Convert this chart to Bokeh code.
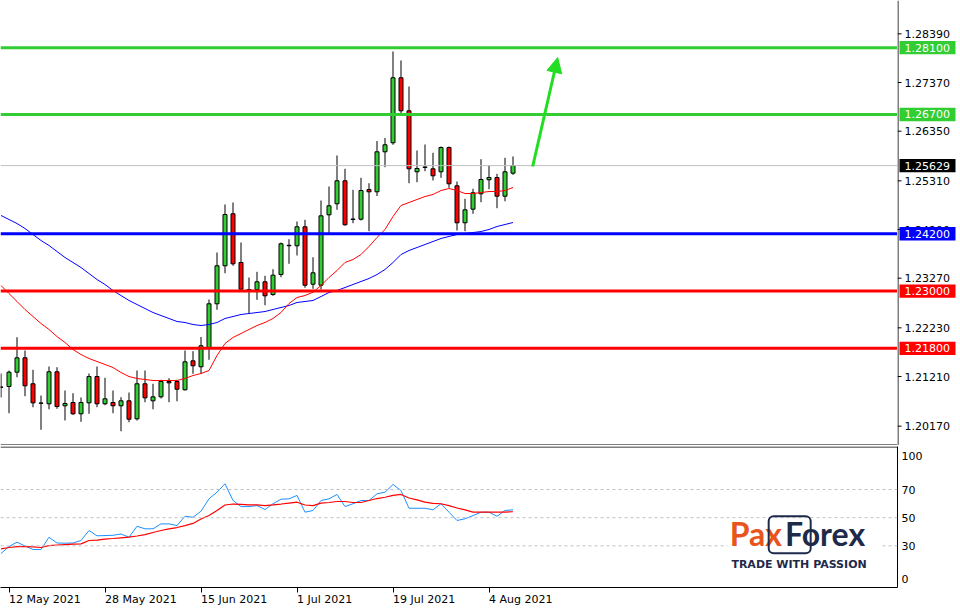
from bokeh.plotting import figure
from bokeh.models import (Range1d, FixedTicker, Span, Label, LinearAxis,
                          Arrow, NormalHead, BoxAnnotation, ColumnDataSource)
from bokeh.core.properties import value
from bokeh.layouts import column, row
from bokeh.embed import file_html
from bokeh.resources import INLINE

# ---------------- data ----------------
opens = [1.20990, 1.21001, 1.21301, 1.21602, 1.21058, 1.20655, 1.20639, 1.21309, 1.20597, 1.20666,
         1.20429, 1.20659, 1.21210, 1.20639, 1.20666, 1.20597, 1.20701, 1.20324, 1.21058, 1.20701,
         1.20785, 1.21106, 1.21106, 1.20932, 1.21539, 1.21414, 1.21812, 1.22734, 1.23530, 1.24619,
         1.23599, 1.23030, 1.23033, 1.23195, 1.22928, 1.23347, 1.23960, 1.23949, 1.24347, 1.23144,
         1.23123, 1.24598, 1.24829, 1.25311, 1.24510, 1.24506, 1.25128, 1.25080, 1.25918, 1.26107,
         1.27469, 1.26777, 1.25499, 1.25600, 1.25562, 1.25499, 1.26008, 1.25206, 1.24431, 1.24716,
         1.25038, 1.25332, 1.25380, 1.24988, 1.25470]
highs = [1.21273, 1.21336, 1.22034, 1.21755, 1.21351, 1.20812, 1.21420, 1.21405, 1.20917, 1.20861,
         1.20771, 1.21273, 1.21420, 1.21183, 1.20917, 1.20777, 1.20875, 1.21336, 1.21336, 1.21058,
         1.21141, 1.21175, 1.21141, 1.21755, 1.21741, 1.22038, 1.22824, 1.23808, 1.24814, 1.24856,
         1.24018, 1.23285, 1.23404, 1.23320, 1.23459, 1.24018, 1.24087, 1.24458, 1.24493, 1.23710,
         1.24898, 1.25191, 1.25841, 1.25562, 1.25122, 1.25373, 1.25260, 1.26144, 1.26207, 1.28020,
         1.27831, 1.27286, 1.25945, 1.26071, 1.25897, 1.26029, 1.26029, 1.25296, 1.24933, 1.25143,
         1.25763, 1.25631, 1.25457, 1.25792, 1.25820]
lows = [1.20771, 1.20442, 1.21196, 1.20798, 1.20567, 1.20094, 1.20525, 1.20534, 1.20289, 1.20408,
        1.20261, 1.20429, 1.20567, 1.20609, 1.20442, 1.20064, 1.20253, 1.20289, 1.20672, 1.20525,
        1.20750, 1.20672, 1.20693, 1.20917, 1.21267, 1.21273, 1.21560, 1.22608, 1.23375, 1.23530,
        1.23033, 1.22537, 1.22817, 1.22704, 1.22901, 1.23291, 1.23572, 1.23746, 1.23069, 1.23048,
        1.23033, 1.24200, 1.24703, 1.24370, 1.24422, 1.24479, 1.24255, 1.24992, 1.25596, 1.26065,
        1.26727, 1.25260, 1.25281, 1.25512, 1.25317, 1.25373, 1.25164, 1.24269, 1.24255, 1.24619,
        1.24862, 1.25135, 1.24737, 1.24883, 1.25436]
closes = [1.20986, 1.21301, 1.21602, 1.21016, 1.20659, 1.20651, 1.21309, 1.20582, 1.20645, 1.20429,
          1.20666, 1.21210, 1.20639, 1.20743, 1.20597, 1.20701, 1.20316, 1.21058, 1.20764, 1.20785,
          1.21106, 1.21078, 1.20944, 1.21518, 1.21435, 1.21854, 1.22734, 1.23530, 1.24605, 1.23572,
          1.23039, 1.23020, 1.23195, 1.22901, 1.23333, 1.23991, 1.23950, 1.24347, 1.23123, 1.23383,
          1.24577, 1.24787, 1.25311, 1.24389, 1.24500, 1.25107, 1.25080, 1.25918, 1.26065, 1.27469,
          1.26777, 1.25562, 1.25568, 1.25590, 1.25415, 1.26008, 1.25248, 1.24431, 1.24703, 1.25059,
          1.25338, 1.25380, 1.24988, 1.25499, 1.25629]
ma_fast = [1.23117, 1.22949, 1.22782, 1.22614, 1.22467, 1.22321, 1.22195, 1.22048, 1.21923, 1.21776,
           1.21671, 1.21588, 1.21525, 1.21462, 1.21399, 1.21294, 1.21210, 1.21169, 1.21148, 1.21127,
           1.21127, 1.21127, 1.21127, 1.21169, 1.21231, 1.21273, 1.21336, 1.21650, 1.21902, 1.22028,
           1.22111, 1.22195, 1.22279, 1.22342, 1.22426, 1.22551, 1.22740, 1.22866, 1.22907, 1.22977,
           1.23117, 1.23285, 1.23431, 1.23599, 1.23662, 1.23766, 1.23934, 1.24123, 1.24290, 1.24563,
           1.24793, 1.24856, 1.24919, 1.24982, 1.25024, 1.25107, 1.25149, 1.25107, 1.25044, 1.25044,
           1.25065, 1.25086, 1.25086, 1.25107, 1.25170]
ma_slow = [1.24584, 1.24500, 1.24416, 1.24311, 1.24185, 1.24060, 1.23955, 1.23829, 1.23704, 1.23599,
           1.23494, 1.23368, 1.23243, 1.23138, 1.23012, 1.22907, 1.22803, 1.22719, 1.22635, 1.22551,
           1.22488, 1.22426, 1.22363, 1.22342, 1.22300, 1.22279, 1.22300, 1.22342, 1.22426, 1.22467,
           1.22509, 1.22530, 1.22551, 1.22572, 1.22614, 1.22656, 1.22698, 1.22761, 1.22782, 1.22803,
           1.22886, 1.22970, 1.23012, 1.23075, 1.23138, 1.23201, 1.23264, 1.23347, 1.23452, 1.23599,
           1.23766, 1.23850, 1.23913, 1.23976, 1.24039, 1.24102, 1.24144, 1.24185, 1.24206, 1.24227,
           1.24248, 1.24290, 1.24353, 1.24395, 1.24437]
rsi = [24.5, 29.5, 32.6, 29.9, 27.4, 27.4, 36.1, 32.0, 31.9, 32.0,
       33.8, 40.9, 37.1, 37.3, 37.5, 38.4, 36.1, 43.9, 42.1, 42.1,
       45.6, 45.6, 44.4, 51.0, 50.3, 54.6, 63.4, 68.1, 74.1, 62.2,
       57.9, 57.9, 58.6, 55.8, 59.9, 63.1, 63.4, 65.8, 53.9, 55.1,
       62.2, 63.4, 66.5, 57.9, 59.9, 62.2, 62.2, 67.0, 68.1, 73.6,
       69.3, 56.7, 56.7, 56.7, 55.6, 59.9, 53.9, 48.0, 49.2, 51.5,
       53.9, 53.9, 51.0, 55.1, 55.6]
rsi_ma = [27.9, 28.8, 29.5, 29.5, 29.2, 28.8, 30.2, 30.6, 30.9, 31.2,
          31.4, 33.8, 34.1, 34.8, 35.2, 35.7, 36.2, 37.0, 38.0, 39.5,
          40.9, 42.0, 43.0, 44.4, 45.9, 49.1, 51.5, 55.1, 59.0, 59.7,
          59.4, 59.1, 59.1, 58.6, 59.1, 59.7, 60.4, 61.0, 59.0, 58.6,
          60.3, 60.8, 61.5, 61.5, 60.8, 60.8, 62.2, 63.6, 64.5, 65.8,
          66.5, 64.0, 62.6, 61.1, 60.1, 59.9, 58.6, 56.9, 55.5, 54.0,
          53.9, 53.9, 53.9, 54.0, 54.2]
bars = list(range(len(opens)))

price_ticks = [1.28390, 1.27370, 1.26350, 1.25310, 1.24290, 1.23270, 1.22230, 1.21210, 1.20170]
date_tick_bars = [1, 13, 25, 37, 49, 61]
date_tick_labels = ["12 May 2021", "28 May 2021", "15 Jun 2021", "1 Jul 2021", "19 Jul 2021", "4 Aug 2021"]
green_levels = [1.28100, 1.26700]
blue_levels = [1.24200]
red_levels = [1.23000, 1.21800]
last_price = 1.25629
rsi_levels = [30, 50, 70]
rsi_tick_pos = [6.3, 30, 50, 70, 93.7]
rsi_tick_text = ["0", "30", "50", "70", "100"]
arrow_bars = [66.46, 69.59]
arrow_prices = [1.25610, 1.27894]

# ---------------- styling / layout ----------------
GREEN = "#32CD32"
RED = "#FF0000"
BLUE = "#0000FF"
NAVY = "#1E2A4A"
FONT = "DejaVu Sans"
FRAME_W = 897
BAR_PX = 8
MAIN_H = 445
RSI_H = 141
RIGHT = 63

xs = -0.5 / BAR_PX
x_range = Range1d(xs, xs + FRAME_W / BAR_PX)
price_lo, price_hi = 1.19765, 1.29088
y_main = Range1d(price_lo, price_hi)
y_rsi = Range1d(0.4, 100.57)
px_price = (price_hi - price_lo) / MAIN_H
rsi_px = (y_rsi.end - y_rsi.start) / RSI_H

# ---------------- main price panel ----------------
p1 = figure(frame_width=FRAME_W, frame_height=MAIN_H, x_range=x_range, y_range=y_main,
            output_backend="svg", toolbar_location=None, x_axis_location=None,
            y_axis_location=None, min_border_left=0, min_border_top=0,
            min_border_bottom=0, min_border_right=0)
p1.outline_line_color = None
p1.grid.grid_line_color = None

colors = [GREEN if c > o else RED for o, c in zip(opens, closes)]
src = ColumnDataSource(dict(x=bars, o=opens, h=highs, l=lows, c=closes,
                            top=[max(o, c) for o, c in zip(opens, closes)],
                            bottom=[min(o, c) for o, c in zip(opens, closes)],
                            color=colors))
p1.segment(x0="x", y0="h", x1="x", y1="l", source=src, line_color="black", line_width=1)
p1.vbar(x="x", width=0.5, top="top", bottom="bottom", source=src,
        fill_color="color", line_color="black", line_width=1)
p1.line(bars, ma_slow, line_color=BLUE, line_width=1)
p1.line(bars, ma_fast, line_color=RED, line_width=1)

p1.add_layout(Span(location=last_price, dimension="width", line_color="#C0C0C0", line_width=1))
for lv in green_levels:
    p1.add_layout(Span(location=lv, dimension="width", line_color=GREEN, line_width=3))
for lv in blue_levels:
    p1.add_layout(Span(location=lv, dimension="width", line_color=BLUE, line_width=3))
for lv in red_levels:
    p1.add_layout(Span(location=lv, dimension="width", line_color=RED, line_width=3))
p1.add_layout(Span(location=price_lo + 0.5 * px_price, dimension="width",
                   line_color="black", line_width=1))
p1.add_layout(Arrow(x_start=arrow_bars[0], y_start=arrow_prices[0],
                    x_end=arrow_bars[1], y_end=arrow_prices[1],
                    line_color="#22DD22", line_width=3,
                    end=NormalHead(size=15, fill_color="#22DD22", line_color="#22DD22")))

# ---------------- price scale strip (right of the main panel) ----------------
ps = figure(frame_width=RIGHT, frame_height=MAIN_H, x_range=Range1d(0, RIGHT), y_range=y_main,
            output_backend="svg", toolbar_location=None, x_axis_location=None,
            y_axis_location=None, min_border_left=0, min_border_top=0,
            min_border_bottom=0, min_border_right=0)
ps.outline_line_color = None
ps.grid.grid_line_color = None
ps.add_layout(Span(location=0.5, dimension="height", line_color="black", line_width=1))
ps.segment(x0=[0] * len(price_ticks), y0=price_ticks, x1=[4] * len(price_ticks), y1=price_ticks,
           line_color="black", line_width=1)
ps.text(x=[7] * len(price_ticks), y=price_ticks, text=["%.5f" % t for t in price_ticks],
        text_font=value(FONT), text_font_size=value("11px"), text_color="black",
        text_align="left", text_baseline="middle")
tags = ([(lv, GREEN) for lv in green_levels] + [(lv, BLUE) for lv in blue_levels] +
        [(lv, RED) for lv in red_levels] + [(last_price, "black")])
tag_y = [t[0] for t in tags]
tag_c = [t[1] for t in tags]
half = 6.7 * px_price
ps.quad(left=[2] * len(tags), right=[58] * len(tags),
        top=[v + half for v in tag_y], bottom=[v - half for v in tag_y],
        fill_color=tag_c, line_color=None)
ps.text(x=[7] * len(tags), y=tag_y, text=["%.5f" % v for v in tag_y],
        text_font=value(FONT), text_font_size=value("11px"), text_color="white",
        text_align="left", text_baseline="middle")

# ---------------- RSI panel ----------------
p2 = figure(frame_width=FRAME_W, frame_height=RSI_H, x_range=x_range, y_range=y_rsi,
            output_backend="svg", toolbar_location=None, x_axis_location=None,
            y_axis_location="right", min_border_left=0, min_border_top=1,
            min_border_bottom=22, min_border_right=RIGHT)
p2.outline_line_color = None
p2.grid.grid_line_color = None
ay = p2.yaxis[0]
ay.ticker = FixedTicker(ticks=rsi_tick_pos)
ay.major_label_overrides = {t: s for t, s in zip(rsi_tick_pos, rsi_tick_text)}
ay.axis_line_color = "black"
ay.major_tick_in = 0
ay.major_tick_out = 0
ay.minor_tick_line_color = None
ay.major_label_standoff = 4
ay.major_label_text_font = FONT
ay.major_label_text_font_size = "11px"
ay.major_label_text_color = "black"

# x axis: tick marks at the bars (minor ticks), labels starting at each tick (MT4 style)
CHAR_W = {" ": 0.318, "M": 0.863, "a": 0.613, "y": 0.592, "J": 0.295, "u": 0.634,
          "n": 0.634, "l": 0.278, "A": 0.684, "g": 0.635}


def text_width(s, size=11):
    return sum(CHAR_W.get(ch, 0.636) for ch in s) * size


label_pos = [b + (text_width(s) / 2) / BAR_PX for b, s in zip(date_tick_bars, date_tick_labels)]
axl = LinearAxis(ticker=FixedTicker(ticks=label_pos, minor_ticks=date_tick_bars),
                 major_label_overrides={p: s for p, s in zip(label_pos, date_tick_labels)},
                 axis_line_color="black", major_tick_line_color=None,
                 minor_tick_line_color="black", minor_tick_in=0, minor_tick_out=5,
                 major_tick_in=0, major_tick_out=0, major_label_standoff=0,
                 major_label_text_font=FONT, major_label_text_font_size="11px",
                 major_label_text_color="black")
p2.add_layout(axl, "below")

for lv in rsi_levels:
    p2.add_layout(Span(location=lv, dimension="width", line_color="#C0C0C0",
                       line_width=1, line_dash="3 3"))
p2.add_layout(Span(location=y_rsi.end - 0.5 * rsi_px, dimension="width",
                   line_color="black", line_width=1))
p2.line(bars, rsi, line_color="#1E90FF", line_width=1)
p2.line(bars, rsi_ma, line_color=RED, line_width=1.2)

# logo (baseline placement compensated for the text box offset)
p2.add_layout(BoxAnnotation(left=90.8, right=110.2, top=49.4, bottom=11.8,
                            fill_color="white", fill_alpha=1, line_color=None))
p2.add_layout(Label(x=91.1, y=39.0, text="Pax", text_font="Lato", text_font_style="bold",
                    text_font_size="32px", text_color="#E8541C", text_baseline="alphabetic"))
p2.add_layout(Label(x=98.0, y=39.0, text="Forex", text_font="Lato", text_font_style="bold",
                    text_font_size="32px", text_color=NAVY, text_baseline="alphabetic"))
p2.add_layout(BoxAnnotation(left=95.96, right=101.21, top=51.0, bottom=24.8,
                            fill_color=None, line_color=NAVY, line_alpha=1, line_width=2,
                            line_dash="solid", border_radius=5))
p2.add_layout(Label(x=91.3, y=16.5, text="TRADE WITH PASSION", text_font=FONT,
                    text_font_style="bold", text_font_size="11px", text_color=NAVY,
                    text_baseline="alphabetic"))

layout = column(row(p1, ps, spacing=0), p2, spacing=0)
open("out.html", "w").write(file_html(layout, INLINE))
